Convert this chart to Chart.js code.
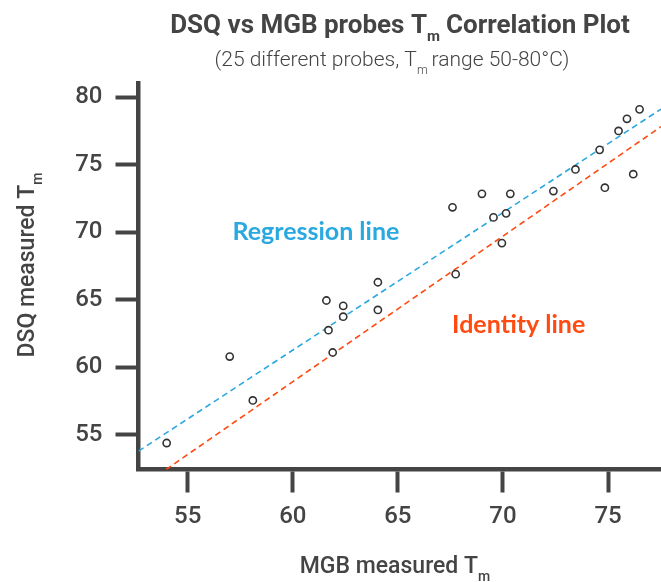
<!DOCTYPE html>
<html>
<head>
<meta charset="utf-8">
<script src="https://cdn.jsdelivr.net/npm/chart.js@4.4.1/dist/chart.umd.min.js"></script>
<style>
  html, body { margin: 0; padding: 0; background: #ffffff; }
  #wrap { width: 661px; height: 582px; }
</style>
</head>
<body>
<div id="wrap"><canvas id="tmChart" width="661" height="582"></canvas></div>
<script>
// measured Tm values for the 25 probes
const mgbTm = [54.0, 57.0, 58.1, 61.6, 61.7, 61.9, 62.4, 62.4, 64.05, 64.05,
    67.6, 67.75, 69.0, 69.55, 69.95, 70.15, 70.35, 72.4, 73.45, 74.6,
    74.85, 75.5, 75.9, 76.2, 76.5];
const dsqTm = [54.4, 60.8, 57.55, 64.95, 62.75, 61.1, 64.55, 63.75, 66.3, 64.25,
    71.85, 66.9, 72.85, 71.1, 69.2, 71.4, 72.85, 73.05, 74.65, 76.1,
    73.3, 77.5, 78.4, 74.3, 79.1];

// dashed lines (end points)
const regressionX = [52.66, 77.52];
const regressionY = [53.8, 79.12];
const identityX = [53.97, 77.52];
const identityY = [52.44, 77.82];

const xTicks = [55, 60, 65, 70, 75];
const yTicks = [55, 60, 65, 70, 75, 80];

const labelNames = ['Regression line', 'Identity line'];
const labelX = [61.1, 70.75];
const labelY = [70.0, 63.15];

const grey = '#444444';
const blue = '#2aa8e0';
const orange = '#ff4b12';

function toPoints(xs, ys) {
    return xs.map((x, i) => ({ x: x, y: ys[i] }));
}

// draws a line of text made of pieces, some of them subscripts
function drawPieces(ctx, pieces, x, y) {
    let total = 0;
    pieces.forEach(p => {
        ctx.font = p.font;
        p.w = ctx.measureText(p.t).width;
        total += p.w + (p.gap || 0);
    });
    let cx = x - total / 2;
    pieces.forEach(p => {
        ctx.font = p.font;
        ctx.fillText(p.t, cx, y + (p.dy || 0));
        cx += p.w + (p.gap || 0);
    });
}

const textPlugin = {
    id: 'textPlugin',
    afterDraw(chart) {
        const ctx = chart.ctx;
        const { x, y } = chart.scales;
        ctx.save();
        ctx.fillStyle = grey;
        ctx.textAlign = 'left';
        ctx.textBaseline = 'alphabetic';

        // title + subtitle
        drawPieces(ctx, [
            { t: 'DSQ vs MGB probes T', font: 'bold 26px Roboto' },
            { t: 'm', font: 'bold 15px Roboto', dy: 8, gap: 6 },
            { t: 'Correlation Plot', font: 'bold 26px Roboto' }
        ], 400, 33);
        drawPieces(ctx, [
            { t: '(25 different probes, T', font: '300 21px Roboto' },
            { t: 'm', font: '300 12px Roboto', dy: 8, gap: 4 },
            { t: 'range 50-80°C)', font: '300 21px Roboto' }
        ], 392, 66);

        // x axis title
        drawPieces(ctx, [
            { t: 'MGB measured T', font: '500 23px Roboto' },
            { t: 'm', font: '500 14px Roboto', dy: 8 }
        ], 395, 573);

        // y axis title
        ctx.save();
        ctx.translate(34, 265);
        ctx.rotate(-Math.PI / 2);
        drawPieces(ctx, [
            { t: 'DSQ measured T', font: '500 23px Roboto' },
            { t: 'm', font: '500 14px Roboto', dy: 8 }
        ], 0, 0);
        ctx.restore();

        // line labels
        ctx.textAlign = 'center';
        ctx.textBaseline = 'middle';
        ctx.font = 'bold 25px Lato';
        [blue, orange].forEach((c, i) => {
            ctx.fillStyle = c;
            ctx.fillText(labelNames[i], x.getPixelForValue(labelX[i]), y.getPixelForValue(labelY[i]));
        });
        ctx.restore();
    }
};

const axisGrid = {
    drawOnChartArea: false,
    drawTicks: true,
    tickLength: 23,
    tickWidth: 4,
    tickColor: grey,
    color: grey
};

new Chart(document.getElementById('tmChart'), {
    type: 'scatter',
    data: {
        datasets: [{
            label: 'Probes',
            data: toPoints(mgbTm, dsqTm),
            pointRadius: 3.6,
            pointBorderWidth: 1.6,
            pointBorderColor: '#333333',
            pointBackgroundColor: '#ffffff',
            order: 0
        }, {
            label: 'Regression line',
            data: toPoints(regressionX, regressionY),
            showLine: true,
            borderColor: blue,
            borderWidth: 1.6,
            borderDash: [6, 4],
            pointRadius: 0,
            order: 1
        }, {
            label: 'Identity line',
            data: toPoints(identityX, identityY),
            showLine: true,
            borderColor: orange,
            borderWidth: 1.6,
            borderDash: [6, 4],
            pointRadius: 0,
            order: 2
        }]
    },
    options: {
        responsive: false,
        animation: false,
        devicePixelRatio: 1,
        layout: { autoPadding: false, padding: { top: 83, left: 0, right: 0, bottom: 0 } },
        plugins: {
            legend: { display: false },
            tooltip: { enabled: false }
        },
        scales: {
            x: {
                type: 'linear',
                min: 52.66,
                max: 77.52,
                afterBuildTicks: s => { s.ticks = xTicks.map(v => ({ value: v })); },
                afterFit: s => { s.height = 112.5; s.paddingLeft = 0; s.paddingRight = 0; },
                grid: axisGrid,
                border: { display: true, color: grey, width: 4.5 },
                ticks: { color: grey, padding: 10, font: { family: 'Roboto', size: 24, weight: '500' } }
            },
            y: {
                type: 'linear',
                min: 52.44,
                max: 81.05,
                afterBuildTicks: s => { s.ticks = yTicks.map(v => ({ value: v })); },
                afterFit: s => { s.width = 138.5; },
                grid: axisGrid,
                border: { display: true, color: grey, width: 4.5 },
                ticks: { color: grey, padding: 13, font: { family: 'Roboto', size: 24, weight: '500' } }
            }
        }
    },
    plugins: [textPlugin]
});
</script>
</body>
</html>
